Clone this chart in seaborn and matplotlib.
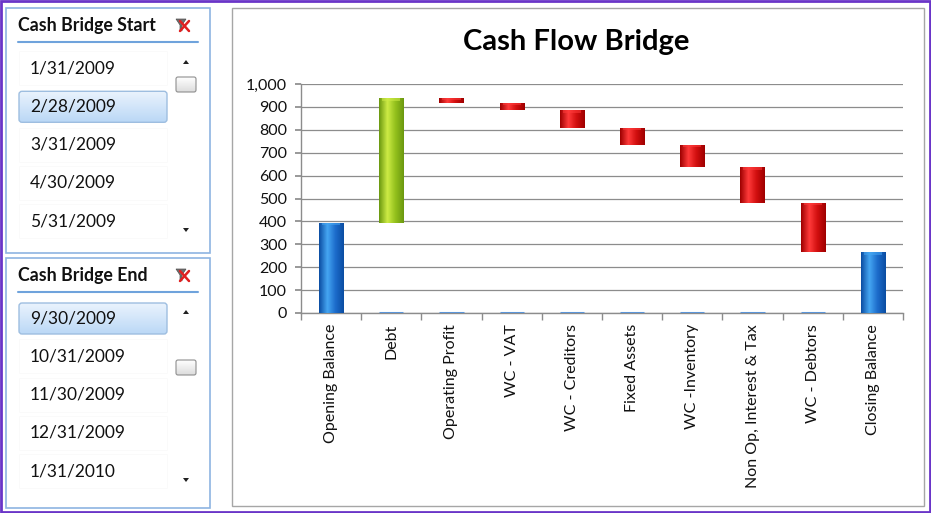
import numpy as np
import pandas as pd
import matplotlib
matplotlib.use("Agg")
import matplotlib.pyplot as plt
import seaborn as sns
from matplotlib.patches import Rectangle, FancyBboxPatch, Polygon
from matplotlib.colors import LinearSegmentedColormap
from matplotlib.ticker import FuncFormatter, FixedLocator

# --- data -------------------------------------------------------------
categories = ["Opening Balance", "Debt", "Operating Profit", "WC - VAT",
              "WC - Creditors", "Fixed Assets", "WC -Inventory",
              "Non Op, Interest & Tax", "WC - Debtors", "Closing Balance"]
opening_balance = 395
movements = [542, -20, -30, -78, -74, -98, -155, -216]   # Debt .. WC - Debtors
closing_balance = 266

start_dates = ["1/31/2009", "2/28/2009", "3/31/2009", "4/30/2009", "5/31/2009"]
end_dates = ["9/30/2009", "10/31/2009", "11/30/2009", "12/31/2009", "1/31/2010"]
start_selected = "2/28/2009"
end_selected = "9/30/2009"

# waterfall table: bottom + size for each bar
running = np.cumsum([opening_balance] + movements)
bottoms = [0] + [min(running[i], running[i + 1]) for i in range(len(movements))] + [0]
sizes = [opening_balance] + [abs(m) for m in movements] + [closing_balance]
kinds = ["total"] + ["up" if m > 0 else "down" for m in movements] + ["total"]
df = pd.DataFrame({"category": categories, "bottom": bottoms,
                   "size": sizes, "kind": kinds})
stub_df = pd.DataFrame({"category": categories[1:-1],
                        "value": [0] * len(movements)})

# --- style ------------------------------------------------------------
sns.set_theme(style="white")
plt.rcParams["font.family"] = ["Lato", "DejaVu Sans"]

W, H = 931, 513
fig = plt.figure(figsize=(W / 100, H / 100), dpi=100)

# background layer in pixel coordinates (slicers, frames)
bg = fig.add_axes([0, 0, 1, 1], zorder=0)
bg.set_xlim(0, W)
bg.set_ylim(H, 0)
bg.axis("off")

purple = "#6A35C8"
bg.add_patch(Rectangle((1, 1), W - 2, H - 2, fill=False, ec=purple, lw=2))
bg.add_patch(Rectangle((232, 8), 692, 498, fill=False, ec="#A6A6A6", lw=1))


def v_gradient(x0, y0, w, h, c_top, c_bot, ax, clip=None, z=1):
    cmap = LinearSegmentedColormap.from_list("g", [c_top, c_bot])
    im = ax.imshow(np.linspace(0, 1, 50).reshape(-1, 1), cmap=cmap,
                   extent=[x0, x0 + w, y0 + h, y0], aspect="auto", zorder=z)
    if clip is not None:
        im.set_clip_path(clip)


def slicer(y0, title, dates, selected, thumb_y):
    box_h = 245 if y0 < 100 else 250
    bg.add_patch(Rectangle((6, y0), 204, box_h, fill=False, ec="#8DB4E2", lw=1.2))
    bg.text(18, y0 + 17, title, fontsize=12.8, fontweight="bold",
            color="#111111", va="center", ha="left")
    bg.plot([18, 198], [y0 + 34, y0 + 34], color="#6FA3DC", lw=1.5)
    # clear filter icon
    fx, fy = 183, y0 + 17
    bg.add_patch(Polygon([[fx - 7, fy - 6], [fx + 3, fy - 6], [fx - 1, fy],
                          [fx - 1, fy + 6], [fx - 3, fy + 5], [fx - 3, fy]],
                         closed=True, fc="#707070", ec="#505050", lw=0.5))
    bg.plot([fx - 3, fx + 6], [fy - 4, fy + 6], color="#E02020", lw=1.8)
    bg.plot([fx - 3, fx + 6], [fy + 6, fy - 4], color="#E02020", lw=1.8)
    # items
    for i, d in enumerate(dates):
        cy = y0 + 60 + i * 38.3
        if d == selected:
            p = FancyBboxPatch((19, cy - 15), 148, 31,
                               boxstyle="round,pad=0,rounding_size=3",
                               fc="none", ec="#9EBEE0", lw=1, zorder=3)
            bg.add_patch(p)
            v_gradient(19, cy - 15, 148, 31, "#EAF3FD", "#BBD8F6", bg, clip=p, z=2)
        else:
            bg.add_patch(Rectangle((19, cy - 17), 148, 34, fc="white",
                                   ec="#FAFAFA", lw=0.6, zorder=1))
        bg.text(30, cy, d, fontsize=12.5, color="#111111",
                va="center", ha="left", zorder=4)
    # scroll bar
    bg.add_patch(Polygon([[183, y0 + 56], [189, y0 + 56], [186, y0 + 52]],
                         closed=True, fc="#202020", ec="none"))
    bg.add_patch(Polygon([[183, y0 + 220], [189, y0 + 220], [186, y0 + 224]],
                         closed=True, fc="#202020", ec="none"))
    t = FancyBboxPatch((176, thumb_y), 20, 15,
                       boxstyle="round,pad=0,rounding_size=2",
                       fc="none", ec="#8E8E8E", lw=0.8, zorder=3)
    bg.add_patch(t)
    v_gradient(176, thumb_y, 20, 15, "#FFFFFF", "#DCDCDC", bg, clip=t, z=2)


slicer(8, "Cash Bridge Start", start_dates, start_selected, 77)
slicer(258, "Cash Bridge End", end_dates, end_selected, 360)
bg.set_xlim(0, W)
bg.set_ylim(H, 0)

fig.text(576 / W, 1 - 42 / H, "Cash Flow Bridge", fontsize=21,
         fontweight="bold", ha="center", va="center", color="#000000")

# --- main chart -------------------------------------------------------
ax = fig.add_axes([301 / W, 1 - 313 / H, 602 / W, 229 / H], zorder=2)

colors = {"total": ("#0B4DA2", "#45A6F2", "#1C6CCB"),
          "up": ("#6B9810", "#CDEB45", "#93C01C"),
          "down": ("#9E0000", "#FF3A3A", "#D10F0F")}
palette = {c: colors[k][2] for c, k in zip(df["category"], df["kind"])}

sns.barplot(data=df, x="category", y="size", hue="category", order=categories,
            palette=palette, legend=False, width=0.4, ax=ax,
            edgecolor="none", zorder=3)
bars = sorted(ax.patches, key=lambda p: p.get_x())
for p, b, k in zip(bars, df["bottom"], df["kind"]):
    p.set_y(b)
    dark, light, mid = colors[k]
    cmap = LinearSegmentedColormap.from_list(
        "bar", [dark, light, mid, dark], N=128)
    x0, w = p.get_x(), p.get_width()
    im = ax.imshow(np.linspace(0, 1, 64).reshape(1, -1), cmap=cmap,
                   extent=[x0, x0 + w, b, b + p.get_height()],
                   aspect="auto", zorder=4)
    im.set_clip_path(p)
    # lighter bevel at the top of each bar
    cap = min(12, p.get_height() * 0.25)
    ax.add_patch(Rectangle((x0 + w * 0.12, b + p.get_height() - cap),
                           w * 0.76, cap, fc=light, ec="none", alpha=0.55,
                           zorder=5))

sns.barplot(data=stub_df, x="category", y="value", order=categories,
            color="#3C7DD0", width=0.4, ax=ax, edgecolor="#5B95D8",
            linewidth=2.2, zorder=3)

ax.set_xlim(-0.5, len(categories) - 0.5)
ax.set_ylim(0, 1000)
ax.set_yticks(np.arange(0, 1001, 100))
ax.yaxis.set_major_formatter(FuncFormatter(lambda v, _: f"{v:,.0f}"))
ax.set_xlabel("")
ax.set_ylabel("")
ax.tick_params(axis="x", which="major", length=0, pad=8, labelsize=11.5,
               labelrotation=90, labelcolor="#111111")
ax.xaxis.set_minor_locator(FixedLocator(np.arange(-0.5, len(categories), 1)))
ax.tick_params(axis="x", which="minor", length=5, direction="out",
               color="#8C8C8C", bottom=True)
ax.tick_params(axis="y", length=4, direction="out", color="#8C8C8C",
               labelsize=11.5, labelcolor="#111111", left=True, pad=6)
for lab in ax.get_xticklabels():
    lab.set_va("top")
ax.yaxis.grid(True, color="#8C8C8C", lw=0.9)
ax.set_axisbelow(True)
for s in ["top", "right"]:
    ax.spines[s].set_visible(False)
for s in ["left", "bottom"]:
    ax.spines[s].set_color("#8C8C8C")
    ax.spines[s].set_linewidth(1)

fig.savefig("out.png", dpi=100)
